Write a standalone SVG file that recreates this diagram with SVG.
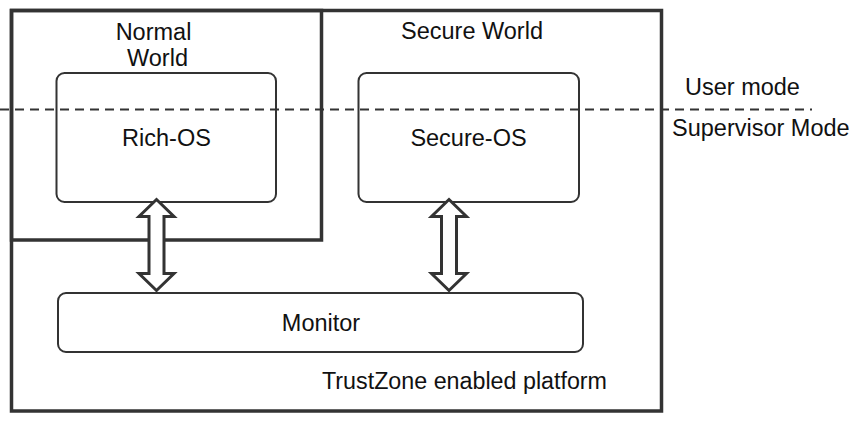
<svg xmlns="http://www.w3.org/2000/svg" width="858" height="424" viewBox="0 0 858 424">
<defs>
<style>
.frame{fill:none;stroke:#333;stroke-width:3.5}
.box{fill:#fff;stroke:#333;stroke-width:2}
.arrow{fill:#fff;stroke:#333;stroke-width:3;stroke-linejoin:miter}
.dash{stroke:#333;stroke-width:2.2;stroke-dasharray:9 6;fill:none}
text{font-family:"Liberation Sans",Arial,sans-serif;font-size:23.5px;fill:#111}
.c{text-anchor:middle}
</style>
</defs>
<rect width="858" height="424" fill="#fff"/>
<g id="platform">
<rect class="frame" x="11.5" y="10.5" width="650" height="400.5"/>
<text x="322" y="389" textLength="285" lengthAdjust="spacingAndGlyphs">TrustZone enabled platform</text>
</g>
<g id="normal-world">
<rect class="frame" x="11.5" y="10.5" width="310" height="229.5"/>
<text class="c" x="153.5" y="39.5">Normal</text>
<text class="c" x="157.5" y="65.5">World</text>
</g>
<g id="secure-world">
<text class="c" x="472" y="38.5">Secure World</text>
</g>
<g id="rich-os">
<rect class="box" x="56.5" y="73" width="219.5" height="129" rx="8"/>
<text class="c" x="166.5" y="145.5">Rich-OS</text>
</g>
<g id="secure-os">
<rect class="box" x="358.5" y="73" width="220.5" height="129" rx="8"/>
<text class="c" x="468.5" y="145.5">Secure-OS</text>
</g>
<g id="monitor">
<rect class="box" x="58" y="293" width="525" height="59" rx="8"/>
<text class="c" x="321" y="331">Monitor</text>
</g>
<g id="modes">
<text x="685" y="95">User mode</text>
<text x="672" y="136">Supervisor Mode</text>
</g>
<g id="connectors">
<line class="dash" x1="0" y1="109.5" x2="812" y2="109.5"/>
<polygon class="arrow" points="156.5,199.5 174,216.5 164,216.5 164,273.5 174,273.5 156.5,290.5 139,273.5 149,273.5 149,216.5 139,216.5"/>
<polygon class="arrow" points="449,199.5 466.5,216.5 456.5,216.5 456.5,273.5 466.5,273.5 449,290.5 431.5,273.5 441.5,273.5 441.5,216.5 431.5,216.5"/>
</g>
</svg>
